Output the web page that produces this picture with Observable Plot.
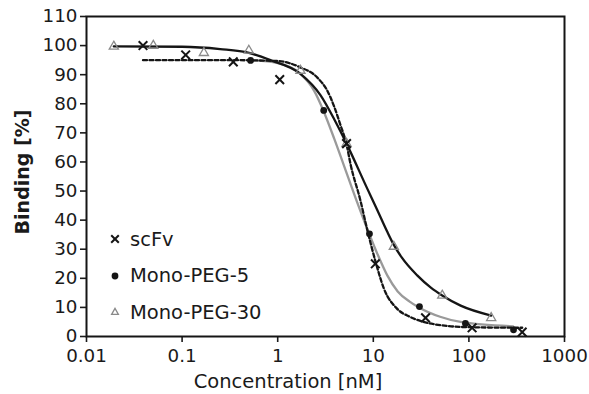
<!DOCTYPE html>
<html><head><meta charset="utf-8">
<script src="https://cdn.jsdelivr.net/npm/d3@7"></script>
<script src="https://cdn.jsdelivr.net/npm/@observablehq/plot@0.6"></script>
<style>
html,body{margin:0;padding:0;background:#fff;}
#wrap{position:relative;width:589px;height:394px;font-family:"DejaVu Sans",sans-serif;color:#1a1a1a;}
#legend{position:absolute;left:106px;top:221px;}
.row{display:flex;align-items:center;height:36.5px;font-size:19.5px;white-space:nowrap;}
.row svg{width:18px;height:18px;margin-right:6px;flex:none;}
#xtitle{position:absolute;left:0;width:576px;top:370px;text-align:center;font-size:19.5px;line-height:24px;}
#ytitle{position:absolute;left:22px;top:172px;width:200px;margin-left:-100px;margin-top:-12px;text-align:center;font-size:19px;line-height:24px;font-weight:bold;transform:rotate(-90deg);}
</style></head><body><div id="wrap"></div>
<script>
// ---- data ----
const seriesNames = ["scFv", "Mono-PEG-5", "Mono-PEG-30"];
const xTitle = "Concentration [nM]";
const yTitle = "Binding [%]";

// measured points
const scfvConc = [0.039, 0.109, 0.343, 1.05, 5.25, 10.5, 35.2, 108, 361];
const scfvBinding = [100, 96.8, 94.4, 88.3, 66.3, 25.0, 6.4, 3.0, 1.5];
const peg5Conc = [0.52, 3.03, 9.12, 30.4, 92, 293];
const peg5Binding = [94.9, 77.7, 35.3, 10.3, 4.5, 2.3];
const peg30Conc = [0.0193, 0.050, 0.169, 0.499, 1.73, 5.25, 16.4, 52.6, 171];
const peg30Binding = [99.7, 100, 97.5, 98.3, 91.4, 66.3, 30.9, 14.1, 6.4];

// fitted curves
const scfvFitConc = [0.039, 0.3, 1.0, 1.7, 2.6, 3.3, 3.9, 4.5, 5.25, 5.8, 7.3, 8.6, 10.5, 12.9, 17.8, 24, 32, 50, 100, 361];
const scfvFitBinding = [95, 95, 94.7, 92.6, 89, 84.5, 79, 73, 66, 59, 47, 37, 26, 16.5, 9.5, 6.8, 5.2, 3.9, 3.2, 3.0];
const peg5FitConc = [0.5, 1.0, 1.7, 2.4, 3.0, 3.9, 4.9, 6.8, 9.0, 11, 14, 18, 24, 30, 50, 82, 290];
const peg5FitBinding = [95, 94, 90.5, 84.5, 77.7, 68, 59, 46, 35.5, 28.5, 21, 15.5, 12, 10, 6.8, 5, 3.5];
const peg30FitConc = [0.0193, 0.1, 0.25, 0.5, 0.84, 1.73, 2.8, 4.0, 5.25, 8.6, 11, 14, 16.4, 20, 28.8, 40, 52.6, 82, 171];
const peg30FitBinding = [99.7, 99.6, 98.8, 97.5, 95, 90.3, 83, 74, 66.3, 51, 43.5, 36, 31.5, 27, 21, 16.8, 14.1, 10.6, 7.2];

const xTicks = [0.01, 0.1, 1, 10, 100, 1000];
const xTickLabels = ["0.01", "0.1", "1", "10", "100", "1000"];
const yTicks = [0, 10, 20, 30, 40, 50, 60, 70, 80, 90, 100, 110];

const toRows = (xs, ys) => xs.map((x, i) => ({x, y: ys[i]}));
const scfvPts = toRows(scfvConc, scfvBinding);
const peg5Pts = toRows(peg5Conc, peg5Binding);
const peg30Pts = toRows(peg30Conc, peg30Binding);
const scfvFit = toRows(scfvFitConc, scfvFitBinding);
const peg5Fit = toRows(peg5FitConc, peg5FitBinding);
const peg30Fit = toRows(peg30FitConc, peg30FitBinding);

const dark = "#151515", gray = "#9a9a9a";

const chart = Plot.plot({
  width: 589, height: 394,
  marginLeft: 86, marginRight: 25, marginTop: 16, marginBottom: 58,
  style: {fontFamily: "DejaVu Sans, sans-serif", fontSize: "18.3px", color: "#1a1a1a", background: "#fff"},
  x: {type: "log", domain: [0.01, 1000]},
  y: {domain: [0, 110]},
  marks: [
    Plot.line(peg5Fit, {x: "x", y: "y", curve: "monotone-x", stroke: gray, strokeWidth: 2.3}),
    Plot.line(peg30Fit, {x: "x", y: "y", curve: "monotone-x", stroke: dark, strokeWidth: 2.3}),
    Plot.line(scfvFit, {x: "x", y: "y", curve: "monotone-x", stroke: dark, strokeWidth: 2.3, strokeDasharray: "4,2.5"}),
    Plot.dot(peg30Pts, {x: "x", y: "y", symbol: "triangle", r: 3.4, stroke: "#8a8a8a", strokeWidth: 1.3, fill: "none"}),
    Plot.dot(peg5Pts, {x: "x", y: "y", symbol: "circle", r: 3.4, fill: dark, stroke: "none"}),
    Plot.dot(scfvPts, {x: "x", y: "y", symbol: "times", r: 4, stroke: dark, strokeWidth: 2}),
    Plot.axisY({ticks: yTicks, tickSize: 6, tickPadding: 3, strokeWidth: 1.6, label: null}),
    Plot.axisX({ticks: xTicks, tickFormat: d => xTickLabels[xTicks.indexOf(d)], tickSize: 6, tickPadding: 6, strokeWidth: 1.6, label: null}),
    Plot.frame({stroke: dark, strokeWidth: 2})
  ]
});
const wrap = document.getElementById("wrap");
wrap.appendChild(chart);

const xt = document.createElement("div");
xt.id = "xtitle";
xt.textContent = xTitle;
wrap.appendChild(xt);
const yt = document.createElement("div");
yt.id = "ytitle";
yt.textContent = yTitle;
wrap.appendChild(yt);

// legend
const legendSymbols = [
  '<line x1="5.2" y1="5.2" x2="12.8" y2="12.8" stroke="#151515" stroke-width="2"/><line x1="12.8" y1="5.2" x2="5.2" y2="12.8" stroke="#151515" stroke-width="2"/>',
  '<circle cx="9" cy="9" r="3.4" fill="#151515"/>',
  '<path d="M9 5.4 L12.4 11.4 L5.6 11.4 Z" fill="none" stroke="#8a8a8a" stroke-width="1.3"/>'
];
const legend = document.createElement("div");
legend.id = "legend";
seriesNames.forEach((name, i) => {
  const row = document.createElement("div");
  row.className = "row";
  row.innerHTML = `<svg viewBox="0 0 18 18">${legendSymbols[i]}</svg><span>${name}</span>`;
  legend.appendChild(row);
});
wrap.appendChild(legend);
</script>
</body></html>
